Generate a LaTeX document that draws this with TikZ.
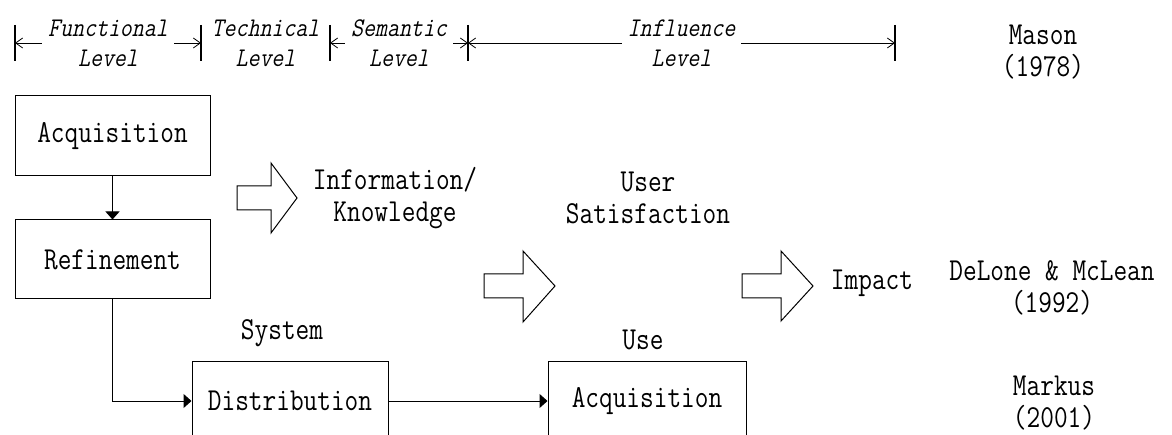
\documentclass[tikz,border=0pt]{standalone}
\usepackage{fontspec}
\newfontfamily\monof[FakeStretch=0.83]{Latin Modern Mono}
\newfontfamily\monoif[FakeStretch=0.86,FakeSlant=0.21]{Latin Modern Mono}
\usetikzlibrary{arrows.meta}
\begin{document}
\begin{tikzpicture}[x=1pt,y=-1pt,
  box/.style={draw, line width=1pt, minimum width=195pt, minimum height=80pt, inner sep=0pt, font=\monof\fontsize{32}{32}\selectfont},
  lbl/.style={align=center, inner sep=0pt, font=\monof\fontsize{32}{32}\selectfont},
  lvl/.style={align=center, fill=white, inner sep=6pt, font=\monoif\fontsize{27}{30}\selectfont},
  dim/.style={line width=0.8pt, {Straight Barb[length=7pt,width=10pt]}-{Straight Barb[length=7pt,width=10pt]}},
  tickline/.style={line width=1.5pt},
  conn/.style={line width=1pt, -{Triangle[length=8pt,width=14pt]}},
  blk/.style={draw, line width=1pt, fill=white, line join=miter}]
\clip (0,0) rectangle (1172,435);
\fill[white] (0,0) rectangle (1172,435);

% ruler
\coordinate (t1) at (15,43);
\coordinate (t2) at (201,43);
\coordinate (t3) at (330,43);
\coordinate (t4) at (468,43);
\coordinate (t5) at (895,43);
\draw[dim] (t1) -- (t2) node[midway, lvl] (fl) {Functional\\Level};
\node[lvl, fill=none] (tl) at (265.5,43) {Technical\\Level};
\draw[dim] (t3) -- (t4) node[midway, lvl] (sl) {Semantic\\Level};
\draw[dim] (t4) -- (t5) node[midway, lvl] (il) {Influence\\Level};
\foreach \x in {15,201,330,468,895} \draw[tickline] (\x,25) -- (\x,61);

% boxes
\node[box] (acq) at (112.5,136) {Acquisition};
\node[box, minimum height=79pt] (ref) at (112.5,259.5) {Refinement};
\node[box, minimum width=196pt] (dist) at (290,401) {Distribution};
\node[box, minimum width=198pt] (use) at (647,401) {Acquisition};

\draw[conn] (acq) -- (ref);
\draw[conn] (ref.south) |- (dist.west);
\draw[conn] (dist) -- (use);

% block arrows
\draw[blk] (237,186) -- (271,186) -- (271,163) -- (297,198) -- (271,233) -- (271,210) -- (237,210) -- cycle;
\draw[blk] (484,274) -- (523,274) -- (523,251) -- (555,286) -- (523,322) -- (523,298) -- (484,298) -- cycle;
\draw[blk] (742,274) -- (781,274) -- (781,251) -- (813,286) -- (781,321) -- (781,298) -- (742,298) -- cycle;

% labels
\node[lbl] (info) at (395,198) {Information/\\Knowledge};
\node[lbl] (us) at (648,198) {User\\Satisfaction};
\node[lbl] (imp) at (872,283) {Impact};
\node[lbl] (dm) at (1052,288) {DeLone \& McLean\\(1992)};
\node[lbl] (mk) at (1054,403) {Markus\\(2001)};
\node[lbl] (ms) at (1043,52) {Mason\\(1978)};
\node[lbl] (sys) at (282,333) {System};
\node[lbl] (usel) at (643,340) {Use};
\end{tikzpicture}
\end{document}
